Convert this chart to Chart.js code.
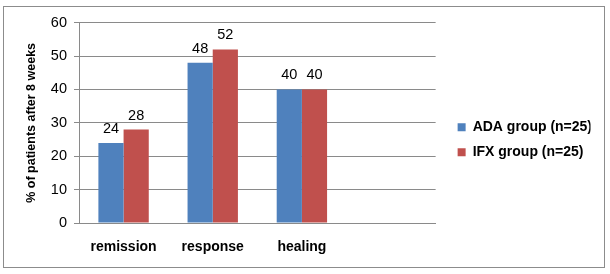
<!DOCTYPE html>
<html>
<head>
<meta charset="utf-8">
<script src="https://cdn.jsdelivr.net/npm/chart.js@4"></script>
<style>
  html, body { margin: 0; padding: 0; background: #fff; }
  #frame {
    position: absolute; left: 3px; top: 6px;
    width: 600px; height: 260px;
    border: 1px solid #8c8c8c;
  }
  #chart { display: block; }
</style>
</head>
<body>
<div id="frame"><canvas id="chart" width="600" height="260"></canvas></div>
<script>
// ---- data ----
const categories = ['remission', 'response', 'healing', ''];
const adaValues = [24, 48, 40, null];
const ifxValues = [28, 52, 40, null];
const seriesNames = ['ADA group (n=25)', 'IFX group (n=25)'];
const yTicks = [0, 10, 20, 30, 40, 50, 60];

const BLUE = '#4f81bd', RED = '#c0504d', GRID = '#8a8a8a';
const FONT = "'Liberation Sans', Arial, sans-serif";

Chart.defaults.font.family = FONT;
Chart.defaults.color = '#000';

// value labels above each bar
const valueLabels = {
    id: 'valueLabels',
    afterDatasetsDraw(chart) {
        const ctx = chart.ctx;
        ctx.save();
        ctx.font = '14.5px ' + FONT;
        ctx.fillStyle = '#000';
        ctx.textAlign = 'center';
        ctx.textBaseline = 'alphabetic';
        chart.data.datasets.forEach((ds, i) => {
            chart.getDatasetMeta(i).data.forEach((bar, j) => {
                if (ds.data[j] == null) return;
                ctx.fillText(ds.data[j], bar.x, bar.y - 10);
            });
        });
        ctx.restore();
    }
};

// nudge the legend away from the plot, like the original
const legendShift = {
    id: 'legendShift',
    afterLayout(chart) {
        const lg = chart.legend;
        if (!lg) return;
        lg.left += 11; lg.right += 11;
        lg.top -= 4; lg.bottom -= 4;
    }
};

new Chart(document.getElementById('chart'), {
    type: 'bar',
    data: {
        labels: categories,
        datasets: [
            { label: seriesNames[0], data: adaValues, backgroundColor: BLUE },
            { label: seriesNames[1], data: ifxValues, backgroundColor: RED }
        ]
    },
    options: {
        responsive: false,
        animation: false,
        events: [],
        categoryPercentage: 0.565,
        barPercentage: 1.0,
        layout: { padding: { top: 13.5, right: 24.5, bottom: 0, left: 0 } },
        plugins: {
            legend: {
                position: 'right',
                labels: {
                    boxWidth: 8, boxHeight: 8, padding: 11,
                    font: { size: 14, weight: 'bold' }
                }
            },
            tooltip: { enabled: false }
        },
        scales: {
            x: {
                grid: { display: false },
                border: { color: GRID },
                ticks: { font: { size: 14, weight: 'bold' }, padding: 8, maxRotation: 0 },
                afterFit: axis => { axis.height = 44; }
            },
            y: {
                min: 0, max: 60,
                afterBuildTicks: axis => { axis.ticks = yTicks.map(v => ({ value: v })); },
                grid: { color: GRID, tickLength: 5, drawTicks: true },
                border: { color: GRID },
                ticks: { font: { size: 14.5 }, padding: 7 },
                title: {
                    display: true, text: '% of patients after 8 weeks',
                    font: { size: 12.5, weight: 'bold' }, padding: { top: 20.5, bottom: 0 }
                },
                afterFit: axis => { axis.width = 75; }
            }
        }
    },
    plugins: [valueLabels, legendShift]
});
</script>
</body>
</html>
